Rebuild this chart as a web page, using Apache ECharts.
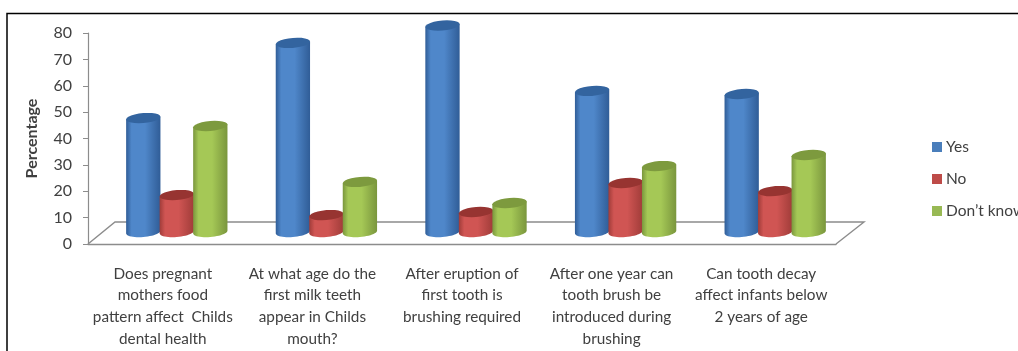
<!DOCTYPE html>
<html>
<head>
    <meta charset="utf-8" />
    <style type="text/css">
        html, body { margin: 0; padding: 0; background: #fff; }
    </style>
    <script src="https://cdn.jsdelivr.net/npm/echarts@6/dist/echarts.min.js"></script>
</head>
<body>
    <div id="main" style="width: 1018px; height: 351px"></div>
    <script type="text/javascript">
        var categories = [
            "Does pregnant\nmothers food\npattern affect  Childs\ndental health",
            "At what age do the\nfirst milk teeth\nappear in Childs\nmouth?",
            "After eruption of\nfirst tooth is\nbrushing required",
            "After one year can\ntooth brush be\nintroduced during\nbrushing",
            "Can tooth decay\naffect infants below\n2 years of age"
        ];
        var seriesNames = ["Yes", "No", "Don\u2019t know"];
        var yesValues = [43.2, 71.7, 78.3, 53.5, 52.3];
        var noValues = [14, 6.4, 7.6, 18.6, 15.5];
        var dontKnowValues = [40.2, 19, 11, 25, 29.2];

        // edge, middle, lid
        var blueShades = ["#305d97", "#4f87ca", "#33649f"];
        var redShades = ["#a03c39", "#d05553", "#973431"];
        var greenShades = ["#7a963d", "#a5c856", "#7d9a3e"];
        var shades = [blueShades, redShades, greenShades];
        var swatches = ["#4a7ebb", "#be4b48", "#98b954"];

        // how far the columns stand behind the axis plane
        var depthX = 14;
        var depthY = 12;
        var textColor = "#404040";
        var font = "Lato";

        var chart = echarts.init(document.getElementById("main"));

        function arc(cx, cy, rx, ry, from, to) {
            var pts = [];
            for (var i = 0; i <= 24; i++) {
                var a = from + (to - from) * i / 24;
                var dx = rx * Math.cos(a);
                pts.push([cx + dx, cy + ry * Math.sin(a) - dx * 0.08]);
            }
            return pts;
        }

        function renderColumn(params, api) {
            var band = api.size([1, 0])[0];
            var w = band * 0.224;
            var slot = params.seriesIndex - 1;
            var top = api.coord([api.value(0), api.value(1)]);
            var bottom = api.coord([api.value(0), 0]);
            var cx = top[0] + depthX + (slot - 1) * w;
            var rx = w / 2 + 0.4;
            var ry = 5;
            var c = shades[slot];
            var body = arc(cx, bottom[1] - depthY, rx, ry, Math.PI, 0);
            body.push([cx + rx, top[1] - depthY - rx * 0.08]);
            body.push([cx - rx, top[1] - depthY + rx * 0.08]);
            return {
                type: "group",
                children: [
                    {
                        type: "polygon",
                        shape: { points: body },
                        style: {
                            fill: {
                                type: "linear", x: 0, y: 0, x2: 1, y2: 0,
                                colorStops: [
                                    { offset: 0, color: c[0] },
                                    { offset: 0.16, color: c[1] },
                                    { offset: 0.55, color: c[1] },
                                    { offset: 1, color: c[0] }
                                ]
                            }
                        }
                    },
                    {
                        type: "polygon",
                        shape: { points: arc(cx, top[1] - depthY, rx, ry, 0, Math.PI * 2) },
                        style: { fill: c[2] }
                    }
                ]
            };
        }

        function renderFloor(params, api) {
            var g = params.coordSys;
            var back = g.y + g.height - 22;
            var front = g.y + g.height;
            return {
                type: "polyline",
                shape: {
                    points: [
                        [g.x, front],
                        [g.x + 27, back],
                        [g.x + g.width + 28, back],
                        [g.x + g.width, front]
                    ]
                },
                style: { fill: null, stroke: "#8c8c8c", lineWidth: 1.4 }
            };
        }

        function columnData(values) {
            return values.map(function (v, i) {
                return [i, v];
            });
        }

        var columnValues = [yesValues, noValues, dontKnowValues];
        var series = [
            { type: "custom", name: "floor", renderItem: renderFloor, data: [[0, 0]], silent: true, z: 1 }
        ];
        seriesNames.forEach(function (name, i) {
            series.push({
                type: "custom",
                name: name,
                renderItem: renderColumn,
                data: columnData(columnValues[i]),
                encode: { x: 0, y: 1 },
                itemStyle: { color: swatches[i] },
                z: 2 + i
            });
        });

        chart.setOption({
            animation: false,
            backgroundColor: "#fff",
            textStyle: { fontFamily: font },
            grid: { left: 88, right: 182, top: 33, bottom: 107 },
            legend: {
                data: seriesNames,
                orient: "vertical",
                left: 927,
                top: 133,
                icon: "rect",
                itemWidth: 10,
                itemHeight: 10,
                itemGap: 14,
                selectedMode: false,
                textStyle: { fontFamily: font, fontSize: 15.5, color: textColor, padding: [0, 0, 0, -1], lineHeight: 18 }
            },
            xAxis: {
                type: "category",
                data: categories,
                axisTick: { show: false },
                axisLine: { lineStyle: { color: "#8c8c8c", width: 1.4 } },
                axisLabel: {
                    interval: 0,
                    margin: 19,
                    fontSize: 15.3,
                    lineHeight: 21.6,
                    color: textColor,
                    fontFamily: font
                }
            },
            yAxis: {
                type: "value",
                min: 0,
                max: 80,
                interval: 10,
                name: "Percentage",
                nameLocation: "middle",
                nameGap: 48,
                nameTextStyle: { fontFamily: font, fontWeight: "bold", fontSize: 16, color: textColor },
                splitLine: { show: false },
                axisLine: { show: true, lineStyle: { color: "#8c8c8c", width: 1.2 } },
                axisTick: { show: true, length: 5, lineStyle: { color: "#8c8c8c" } },
                axisLabel: { margin: 16, fontSize: 16, color: textColor, fontFamily: font, padding: [3, 0, 0, 0] }
            },
            graphic: [
                {
                    type: "polyline",
                    silent: true,
                    shape: { points: [[7, 351], [7, 13.5], [1018, 13.5]] },
                    style: { fill: null, stroke: "#000", lineWidth: 1.5 }
                }
            ],
            series: series
        });
    </script>
</body>
</html>
